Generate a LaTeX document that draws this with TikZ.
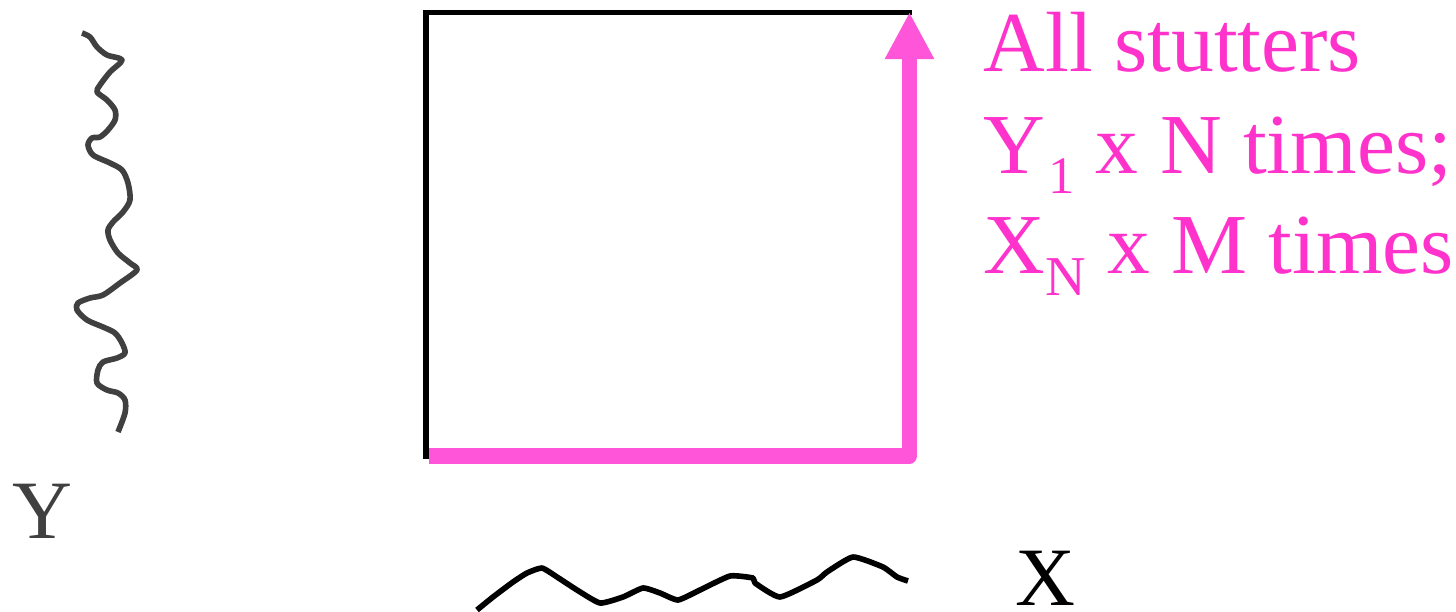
\documentclass[tikz,border=0pt]{standalone}
\usepackage{fontspec}
\setmainfont{Liberation Serif}
\usetikzlibrary{arrows.meta}
\definecolor{stpink}{RGB}{255,85,216}
\definecolor{sttext}{RGB}{255,51,204}
\definecolor{wavegray}{RGB}{64,64,64}

\begin{document}
\begin{tikzpicture}[x=0.01cm, y=-0.01cm,
  frame/.style={draw=black, line width=1.6pt},
  walk/.style={stpink, line width=4.3pt, line join=round,
               -{Triangle[width=0.46cm, length=0.47cm]}},
  seq/.style={line width=1.6pt, line join=round},
  lbl/.style={font=\fontsize{23.6}{28}\selectfont, inner sep=0pt, anchor=base west},
  note/.style={font=\fontsize{24.3}{28}\selectfont, text=sttext, inner sep=0pt,
               anchor=base west}
]
\useasboundingbox (0,0) rectangle (1456,611);

% warping grid corners
\coordinate (o)  at (429,456);
\coordinate (xn) at (909.5,456);
\coordinate (ym) at (909.5,12);
\coordinate (tl) at (426,12.5);
\coordinate (tr) at (912,12.5);
\coordinate (bl) at (426,459);

\draw[frame] (bl) -- (tl) -- (tr);
\draw[walk] (o) -- (xn) -- (ym);

% sequence Y
\draw[seq, wavegray] plot[smooth, tension=0.5] coordinates {
  (82,33) (90,37) (97,47) (107,55) (122,60) (110,72) (100,85) (97,92)
  (107,100) (115,110) (115,120) (108,130) (100,137) (92,138) (88,145)
  (93,155) (110,163) (122,170) (128,183) (130,200) (123,212) (113,222)
  (108,230) (110,240) (118,253) (130,263) (137,270) (120,283) (103,295)
  (90,298) (78,303) (77,310) (87,320) (103,327) (115,333) (122,343)
  (125,353) (117,358) (103,362) (98,370) (97,383) (107,390) (118,393)
  (125,400) (125,413) (118,432)};

% sequence X
\draw[seq] plot[smooth, tension=0.3] coordinates {
  (477,610) (493,597) (513,582) (527,573) (542,568) (557,577) (577,590)
  (600,603) (623,597) (643,588) (660,593) (678,600) (700,590) (730,576)
  (753,578) (755,583) (780,597) (817,580) (827,572) (853,557) (883,567)
  (897,577) (908,581)};

\node[lbl, text=wavegray] (ylab) at (12,538) {Y};
\node[lbl] (xlab) at (1015,605) {X};

\node[note] (n1) at (983,71) {All stutters};
\node[note] (n2) at (983,173) {Y\kern0.8pt\raisebox{-5.7pt}{\fontsize{15}{15}\selectfont 1} x N times;};
\node[note] (n3) at (983,273) {X\raisebox{-6.3pt}{\fontsize{16}{16}\selectfont N} x M times};
\end{tikzpicture}
\end{document}
